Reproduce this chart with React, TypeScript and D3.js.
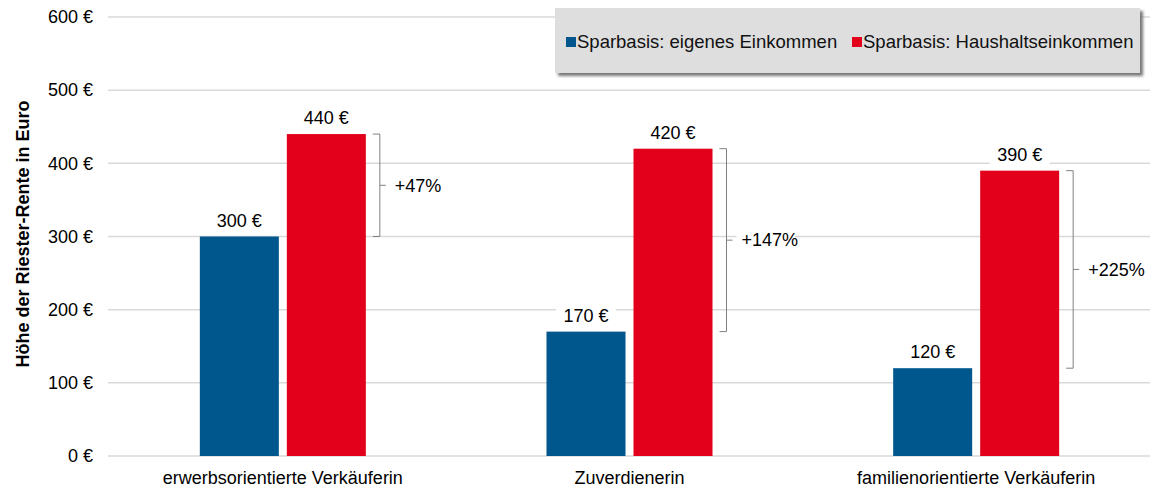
import React from 'react';
import * as d3 from 'd3';

const categories = ['erwerbsorientierte Verkäuferin', 'Zuverdienerin', 'familienorientierte Verkäuferin'];
const series = ['Sparbasis: eigenes Einkommen', 'Sparbasis: Haushaltseinkommen'];
const eigenes = [300, 170, 120];
const haushalt = [440, 420, 390];
const increases = ['+47%', '+147%', '+225%'];
const yTicks = [0, 100, 200, 300, 400, 500, 600];

const colors = ['#00578E', '#E2001A'];
const font = '"Liberation Sans", Arial, sans-serif';

const W = 1155;
const H = 488;

const App: React.FC = () => {
  const y = d3.scaleLinear().domain([0, 600]).range([456, 17]);
  const x0 = d3.scaleBand<string>().domain(categories).range([109.5, 1149.5]).padding(0);
  const mid = x0.bandwidth() / 2;
  const x1 = d3
    .scaleBand<string>()
    .domain(series)
    .range([mid - 83, mid + 83])
    .paddingInner(8 / 87)
    .paddingOuter(0);
  const bw = x1.bandwidth();
  const values = [eigenes, haushalt];
  const eur = (v: number) => `${v} €`;

  return (
    <svg width={W} height={H} style={{ position: 'absolute', left: 0, top: 0 }} fontFamily={font}>
      <defs>
        <filter id="sh" x="-5%" y="-20%" width="110%" height="150%">
          <feGaussianBlur stdDeviation="1.5" />
        </filter>
      </defs>
      <rect width={W} height={H} fill="#fff" />

      {/* grid */}
      {yTicks.map((t) => (
        <g key={t}>
          <line x1={108} x2={1150} y1={y(t)} y2={y(t)} stroke="#d9d9d9" strokeWidth={1.5} />
          <text x={93} y={y(t)} dy="0.35em" textAnchor="end" fontSize={18} fill="#000">
            {eur(t)}
          </text>
        </g>
      ))}

      <text
        transform={`translate(23,${234}) rotate(-90)`}
        textAnchor="middle"
        dy="0.35em"
        fontSize={18}
        fontWeight="bold"
      >
        Höhe der Riester-Rente in Euro
      </text>

      {/* legend */}
      <rect x={558} y={11} width={585} height={65} fill="#777" filter="url(#sh)" />
      <rect x={555} y={8} width={585} height={65} fill="#dedede" />
      {series.map((s, i) => {
        const lx = i === 0 ? 566 : 852;
        return (
          <g key={s}>
            <rect x={lx} y={37} width={10} height={10} fill={colors[i]} />
            <text x={lx + 11} y={42} dy="0.35em" fontSize={18.5} fill="#111">
              {s}
            </text>
          </g>
        );
      })}

      {/* bars */}
      {categories.map((c, ci) => {
        const gx = x0(c)!;
        const redRight = gx + x1(series[1])! + bw;
        const bx = redRight + 14;
        const yt = y(haushalt[ci]);
        const yb = y(eigenes[ci]);
        const ym = (yt + yb) / 2;
        const label = increases[ci];
        const lw = label.length * 10.5 + 6;
        return (
          <g key={c}>
            {series.map((s, si) => {
              const v = values[si][ci];
              const bxs = gx + x1(s)!;
              const lbl = eur(v);
              return (
                <g key={s}>
                  <rect x={bxs} y={y(v)} width={bw} height={y(0) - y(v)} fill={colors[si]} />
                  <rect x={bxs + bw / 2 - 30} y={y(v) - 27} width={60} height={22} fill="#fff" />
                  <text x={bxs + bw / 2} y={y(v) - 10} textAnchor="middle" fontSize={18}>
                    {lbl}
                  </text>
                </g>
              );
            })}
            <path
              d={`M${bx - 7},${yt} H${bx} V${yb} H${bx - 7} M${bx},${ym} H${bx + 6}`}
              fill="none"
              stroke="#808080"
              strokeWidth={1}
            />
            <rect x={bx + 10} y={ym - 11} width={lw} height={22} fill="#fff" />
            <text x={bx + 15} y={ym} dy="0.35em" fontSize={18}>
              {label}
            </text>
            <text x={gx + mid} y={478} dy="0.35em" textAnchor="middle" fontSize={18}>
              {c}
            </text>
          </g>
        );
      })}
    </svg>
  );
};

export default App;
